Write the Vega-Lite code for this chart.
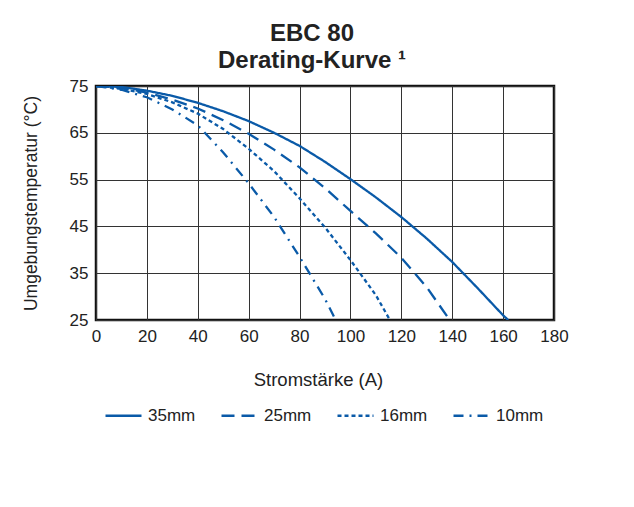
{
  "$schema": "https://vega.github.io/schema/vega-lite/v6.json",
  "width": 458,
  "height": 234,
  "autosize": {"type": "none"},
  "padding": {"left": 96, "top": 86, "right": 80, "bottom": 187},
  "background": "white",
  "title": {
    "text": ["EBC 80", "Derating-Kurve ¹"],
    "fontSize": 24,
    "lineHeight": 27,
    "font": "Liberation Sans",
    "fontWeight": "bold",
    "color": "#222222",
    "anchor": "middle",
    "dx": -13,
    "offset": 4
  },
  "config": {
    "view": {"stroke": "#111111", "strokeWidth": 2.5},
    "font": "Liberation Sans",
    "axis": {
      "labelFont": "Liberation Sans",
      "titleFont": "Liberation Sans",
      "labelFontSize": 17,
      "titleFontSize": 18.5,
      "labelColor": "#222222",
      "titleColor": "#222222",
      "titleFontWeight": "normal",
      "gridColor": "#333333",
      "gridWidth": 1,
      "gridOpacity": 1,
      "domain": false,
      "ticks": false,
      "tickSize": 0,
      "labelFlush": false
    },
    "legend": {
      "labelFont": "Liberation Sans",
      "labelFontSize": 17,
      "labelColor": "#222222"
    }
  },
  "data": {
    "values": [
      {"current": 0, "temp": 75, "series": "35mm"},
      {"current": 10, "temp": 74.8, "series": "35mm"},
      {"current": 20, "temp": 74.0, "series": "35mm"},
      {"current": 30, "temp": 72.9, "series": "35mm"},
      {"current": 40, "temp": 71.4, "series": "35mm"},
      {"current": 50, "temp": 69.6, "series": "35mm"},
      {"current": 60, "temp": 67.5, "series": "35mm"},
      {"current": 70, "temp": 65.0, "series": "35mm"},
      {"current": 80, "temp": 62.2, "series": "35mm"},
      {"current": 90, "temp": 58.8, "series": "35mm"},
      {"current": 100, "temp": 55.1, "series": "35mm"},
      {"current": 110, "temp": 51.2, "series": "35mm"},
      {"current": 120, "temp": 47.0, "series": "35mm"},
      {"current": 130, "temp": 42.4, "series": "35mm"},
      {"current": 140, "temp": 37.4, "series": "35mm"},
      {"current": 150, "temp": 31.8, "series": "35mm"},
      {"current": 160, "temp": 26.0, "series": "35mm"},
      {"current": 162, "temp": 25, "series": "35mm"},
      {"current": 0, "temp": 75, "series": "25mm"},
      {"current": 10, "temp": 74.6, "series": "25mm"},
      {"current": 20, "temp": 73.6, "series": "25mm"},
      {"current": 30, "temp": 72.1, "series": "25mm"},
      {"current": 40, "temp": 70.2, "series": "25mm"},
      {"current": 50, "temp": 67.7, "series": "25mm"},
      {"current": 60, "temp": 64.8, "series": "25mm"},
      {"current": 70, "temp": 61.4, "series": "25mm"},
      {"current": 80, "temp": 57.6, "series": "25mm"},
      {"current": 90, "temp": 53.2, "series": "25mm"},
      {"current": 100, "temp": 48.3, "series": "25mm"},
      {"current": 110, "temp": 43.5, "series": "25mm"},
      {"current": 120, "temp": 38.3, "series": "25mm"},
      {"current": 130, "temp": 32.0, "series": "25mm"},
      {"current": 139, "temp": 25, "series": "25mm"},
      {"current": 0, "temp": 75, "series": "16mm"},
      {"current": 10, "temp": 74.4, "series": "16mm"},
      {"current": 20, "temp": 73.3, "series": "16mm"},
      {"current": 30, "temp": 71.5, "series": "16mm"},
      {"current": 40, "temp": 69.1, "series": "16mm"},
      {"current": 50, "temp": 65.8, "series": "16mm"},
      {"current": 60, "temp": 61.6, "series": "16mm"},
      {"current": 70, "temp": 56.8, "series": "16mm"},
      {"current": 80, "temp": 51.0, "series": "16mm"},
      {"current": 90, "temp": 44.8, "series": "16mm"},
      {"current": 100, "temp": 37.8, "series": "16mm"},
      {"current": 110, "temp": 30.3, "series": "16mm"},
      {"current": 115.5, "temp": 25, "series": "16mm"},
      {"current": 0, "temp": 75, "series": "10mm"},
      {"current": 10, "temp": 74.2, "series": "10mm"},
      {"current": 20, "temp": 72.6, "series": "10mm"},
      {"current": 30, "temp": 70.0, "series": "10mm"},
      {"current": 40, "temp": 66.6, "series": "10mm"},
      {"current": 50, "temp": 60.8, "series": "10mm"},
      {"current": 60, "temp": 54.2, "series": "10mm"},
      {"current": 70, "temp": 47.0, "series": "10mm"},
      {"current": 80, "temp": 38.5, "series": "10mm"},
      {"current": 90, "temp": 29.5, "series": "10mm"},
      {"current": 94.2, "temp": 25, "series": "10mm"}
    ]
  },
  "mark": {"type": "line", "color": "#0a5aa8", "strokeWidth": 2.3, "clip": true},
  "encoding": {
    "x": {
      "field": "current",
      "type": "quantitative",
      "scale": {"domain": [0, 180], "nice": false, "zero": false},
      "axis": {
        "values": [0, 20, 40, 60, 80, 100, 120, 140, 160, 180],
        "title": "Stromstärke (A)",
        "labelPadding": 8,
        "titleX": 222,
        "titleY": 65,
        "titleBaseline": "alphabetic"
      }
    },
    "y": {
      "field": "temp",
      "type": "quantitative",
      "scale": {"domain": [25, 75], "nice": false, "zero": false},
      "axis": {
        "values": [25, 35, 45, 55, 65, 75],
        "title": "Umgebungstemperatur (°C)",
        "titleFontSize": 17.5,
        "labelPadding": 8,
        "titleX": -60,
        "titleBaseline": "alphabetic"
      }
    },
    "strokeDash": {
      "field": "series",
      "type": "nominal",
      "scale": {
        "domain": ["35mm", "25mm", "16mm", "10mm"],
        "range": [[1, 0], [13, 7], [4, 3], [10, 6, 2, 6]]
      },
      "legend": {
        "title": null,
        "orient": "none",
        "direction": "horizontal",
        "legendX": 8,
        "legendY": 310,
        "symbolType": "stroke",
        "symbolSize": 1296,
        "symbolStrokeWidth": 2.3,
        "symbolStrokeColor": "#0a5aa8",
        "labelOffset": 5,
        "columnPadding": 20,
        "padding": 0
      }
    }
  }
}
